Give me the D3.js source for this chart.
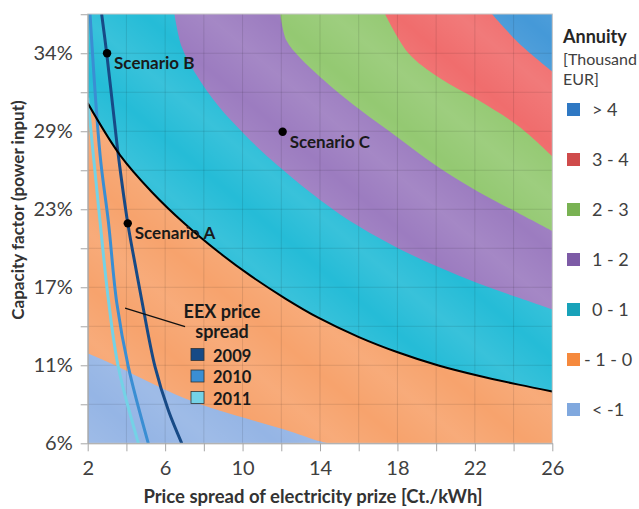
<!DOCTYPE html>
<html>
<head>
<meta charset="utf-8">
<script src="https://cdn.jsdelivr.net/npm/d3@7/dist/d3.min.js"></script>
<style>
  body { margin: 0; background: #fff; }
  svg { display: block; }
</style>
</head>
<body>
<div id="chart-container"></div>
<script>
// Values. x = price spread [Ct./kWh], y = capacity factor [%]
const xTickLabels = [2, 6, 10, 14, 18, 22, 26];
const yTicks = [5.708, 11.416, 17.123, 22.831, 28.539, 34.247]; // 500 ... 3000 h / 8760 h
const yTickLabels = ["6%", "11%", "17%", "23%", "29%", "34%"];

// Annuity classes [Thousand EUR], top to bottom in the legend
const classLabels = ["> 4", "3 - 4", "2 - 3", "1 - 2", "0 - 1", "- 1 - 0", "< -1"];

// Lower boundary of each class (contour lines), [x, y]
const contourM1 = [[2, 12.3], [3.6, 11.3], [5.3, 10.1], [7, 9.0], [8.8, 8.1], [10.5, 7.4], [12.2, 6.7], [14, 5.85], [14.45, 5.708], [26, 5.708]];
const contour0 = [[2, 30.6], [3.67, 26.8], [5.31, 24.1], [7.03, 21.75], [8.76, 19.7], [10.48, 17.9], [12.21, 16.3], [13.91, 14.9], [15.98, 13.5], [18.05, 12.35], [20.12, 11.4], [22.19, 10.65], [24.26, 10.0], [26, 9.5]];
const contour1 = [[6.48, 37.12], [6.86, 34.7], [7.55, 32.8], [8.74, 30.4], [10.14, 28.25], [11.52, 26.4], [14.02, 23.5], [15.98, 21.6], [18.05, 19.97], [20.12, 18.6], [22.19, 17.4], [24.26, 16.35], [26, 15.5]];
const contour2 = [[11.95, 37.12], [12.26, 35.2], [12.98, 33.9], [14.02, 32.5], [15.98, 30.2], [18.05, 28.05], [20.12, 25.9], [22.19, 24.1], [24.26, 22.55], [26, 21.25]];
const contour3 = [[17.36, 37.12], [18.57, 34.25], [20.12, 32.5], [22.19, 30.8], [24.26, 28.9], [26, 26.7]];
const contour4 = [[22.88, 37.12], [24.26, 35.0], [26, 32.9]];

// EEX price spread curves
const eexYears = ["2009", "2010", "2011"];
const eex2009 = [[2.72, 37.12], [2.98, 34.25], [3.41, 28.9], [3.58, 26.8], [4.07, 21.8], [4.45, 18.8], [4.79, 16.2], [5.48, 11.3], [6.17, 8.1], [6.86, 5.708]];
const eex2010 = [[2.12, 37.12], [2.64, 26.8], [3.07, 21.9], [3.5, 16.0], [4.1, 11.3], [5.13, 5.708]];
const eex2011 = [[2.0, 31.0], [2.29, 26.8], [2.64, 21.9], [3.07, 16.2], [3.58, 11.3], [4.62, 5.708]];

// Scenarios
const scenarioNames = ["Scenario A", "Scenario B", "Scenario C"];
const scenarioX = [4.07, 3.0, 12.07];
const scenarioY = [21.8, 34.25, 28.5];

// Farben
const fillColors = ["#4599d8", "#f06d6d", "#94c972", "#9c7cc0", "#25bcd7", "#f7a36d", "#95b5e5"];
const legendColors = ["#2f78c3", "#cf4b4b", "#79b253", "#7d5ba6", "#18a2b9", "#f5893d", "#80a8de"];
const eexColors = ["#174a86", "#3a8ed3", "#74d2e6"];

const width = 639;
const height = 509;
const plot = { left: 87.7, right: 552.3, top: 14, bottom: 443.3 };
const fontFamily = "Lato, 'Open Sans', sans-serif";

const svg = d3.select("#chart-container")
    .append("svg")
    .attr("width", width)
    .attr("height", height)
    .style("font-family", fontFamily);

const x = d3.scaleLinear().domain([2, 26]).range([plot.left, plot.right]);
const y = d3.scaleLinear().domain([5.708, 37.12]).range([plot.bottom, plot.top]);

const defs = svg.append("defs");
defs.append("clipPath").attr("id", "plot-clip")
    .append("rect")
    .attr("x", plot.left).attr("y", plot.top)
    .attr("width", plot.right - plot.left)
    .attr("height", plot.bottom - plot.top);

// diagonal shading like the original
const grad = defs.append("linearGradient")
    .attr("id", "shade")
    .attr("gradientUnits", "userSpaceOnUse")
    .attr("spreadMethod", "reflect")
    .attr("x1", 0).attr("y1", 0)
    .attr("x2", 26).attr("y2", -31);
grad.append("stop").attr("offset", "0").attr("stop-color", "#fff").attr("stop-opacity", 0.0);
grad.append("stop").attr("offset", "1").attr("stop-color", "#fff").attr("stop-opacity", 0.09);

const g = svg.append("g").attr("clip-path", "url(#plot-clip)");

// background class (< -1)
g.append("rect")
    .attr("x", plot.left).attr("y", plot.top)
    .attr("width", plot.right - plot.left)
    .attr("height", plot.bottom - plot.top)
    .attr("fill", fillColors[6]);

// each class = area above its lower contour
const area = d3.area()
    .x(d => x(d[0]))
    .y0(y(37.12) - 2)
    .y1(d => y(d[1]))
    .curve(d3.curveCatmullRom);

const layers = [contourM1, contour0, contour1, contour2, contour3, contour4];
layers.forEach((c, i) => {
    g.append("path")
        .datum(c)
        .attr("d", area)
        .attr("fill", fillColors[5 - i]);
});

g.append("rect")
    .attr("x", plot.left).attr("y", plot.top)
    .attr("width", plot.right - plot.left)
    .attr("height", plot.bottom - plot.top)
    .attr("fill", "url(#shade)");

// Gitternetz
const gridX = d3.range(4, 26, 2);
const gridY = d3.range(1, 11).map(i => 5.708 + i * 2.854);
g.selectAll(".gx").data(gridX).enter().append("line")
    .attr("x1", d => x(d)).attr("x2", d => x(d))
    .attr("y1", plot.top).attr("y2", plot.bottom)
    .attr("stroke", "#000").attr("stroke-opacity", 0.1);
g.selectAll(".gy").data(gridY).enter().append("line")
    .attr("y1", d => y(d)).attr("y2", d => y(d))
    .attr("x1", plot.left).attr("x2", plot.right)
    .attr("stroke", "#000").attr("stroke-opacity", 0.1);

// EEX curves
const line = d3.line().x(d => x(d[0])).y(d => y(d[1])).curve(d3.curveCatmullRom);
[eex2011, eex2010, eex2009].forEach((c, i) => {
    g.append("path")
        .datum(c)
        .attr("d", line)
        .attr("fill", "none")
        .attr("stroke", eexColors[2 - i])
        .attr("stroke-width", 3);
});

// zero contour
g.append("path")
    .datum(contour0)
    .attr("d", line)
    .attr("fill", "none")
    .attr("stroke", "#000")
    .attr("stroke-width", 2);

// frame
svg.append("rect")
    .attr("x", plot.left).attr("y", plot.top)
    .attr("width", plot.right - plot.left)
    .attr("height", plot.bottom - plot.top)
    .attr("fill", "none")
    .attr("stroke", "#c8c8c8");

// Achsen
const xAxis = svg.append("g")
    .attr("transform", `translate(0, ${plot.bottom})`)
    .call(d3.axisBottom(x)
        .tickValues(d3.range(2, 27, 2))
        .tickFormat(d => xTickLabels.includes(d) ? d : "")
        .tickSize(8)
        .tickPadding(10)
        .tickSizeOuter(0));
xAxis.select(".domain").attr("stroke", "#a6a6a6");
xAxis.selectAll(".tick line").attr("stroke", "#a6a6a6");
xAxis.selectAll("text")
    .style("font-size", "20px")
    .style("font-family", fontFamily)
    .attr("fill", "#404040");

const yAxis = svg.append("g")
    .attr("transform", `translate(${plot.left}, 0)`)
    .call(d3.axisLeft(y)
        .tickValues(d3.range(0, 12).map(i => 5.708 + i * 2.854))
        .tickFormat((d, i) => i % 2 === 0 ? yTickLabels[i / 2] : "")
        .tickSize(7)
        .tickPadding(8)
        .tickSizeOuter(0));
yAxis.select(".domain").attr("stroke", "#a6a6a6");
yAxis.selectAll(".tick line").attr("stroke", "#a6a6a6");
yAxis.selectAll("text")
    .style("font-size", "20px")
    .style("font-family", fontFamily)
    .attr("fill", "#404040");

// Achsentitel
svg.append("text")
    .attr("x", 313)
    .attr("y", 503)
    .attr("text-anchor", "middle")
    .style("font-size", "18.5px")
    .style("font-weight", "bold")
    .attr("fill", "#333")
    .text("Price spread of electricity prize [Ct./kWh]");

svg.append("text")
    .attr("transform", "translate(24, 210) rotate(-90)")
    .attr("text-anchor", "middle")
    .style("font-size", "17px")
    .style("font-weight", "bold")
    .attr("fill", "#333")
    .text("Capacity factor (power input)");

// Szenarien
scenarioNames.forEach((name, i) => {
    svg.append("circle")
        .attr("cx", x(scenarioX[i]))
        .attr("cy", y(scenarioY[i]))
        .attr("r", 4.2)
        .attr("fill", "#000");
    svg.append("text")
        .attr("x", x(scenarioX[i]) + 7)
        .attr("y", y(scenarioY[i]) + 16)
        .style("font-size", "17px")
        .style("font-weight", "bold")
        .attr("fill", "#1a1a1a")
        .text(name);
});

// EEX legend inside the plot
svg.append("line")
    .attr("x1", x(3.93)).attr("y1", y(15.59))
    .attr("x2", x(7.03)).attr("y2", y(14.24))
    .attr("stroke", "#111")
    .attr("stroke-width", 1.3);
svg.append("text")
    .attr("x", 222).attr("y", 318)
    .attr("text-anchor", "middle")
    .style("font-size", "18px").style("font-weight", "bold")
    .attr("fill", "#1a1a1a")
    .text("EEX price");
svg.append("text")
    .attr("x", 222).attr("y", 338)
    .attr("text-anchor", "middle")
    .style("font-size", "18px").style("font-weight", "bold")
    .attr("fill", "#1a1a1a")
    .text("spread");
eexYears.forEach((yr, i) => {
    svg.append("rect")
        .attr("x", 191).attr("y", 348.5 + i * 21.5)
        .attr("width", 13).attr("height", 12)
        .attr("fill", eexColors[i])
        .attr("stroke", "#333").attr("stroke-width", 0.8);
    svg.append("text")
        .attr("x", 213).attr("y", 361.5 + i * 21.5)
        .style("font-size", "16.5px").style("font-weight", "bold")
        .attr("fill", "#1a1a1a")
        .text(yr);
});

// Legende rechts
svg.append("text")
    .attr("x", 563).attr("y", 43)
    .style("font-size", "18px").style("font-weight", "bold")
    .attr("fill", "#262626")
    .text("Annuity");
svg.append("text")
    .attr("x", 563).attr("y", 65)
    .style("font-size", "16px")
    .attr("fill", "#404040")
    .text("[Thousand");
svg.append("text")
    .attr("x", 563).attr("y", 85)
    .style("font-size", "16px")
    .attr("fill", "#404040")
    .text("EUR]");

classLabels.forEach((lab, i) => {
    svg.append("rect")
        .attr("x", 567).attr("y", 103 + i * 50)
        .attr("width", 13).attr("height", 13)
        .attr("fill", legendColors[i]);
    svg.append("text")
        .attr("x", lab.startsWith("- ") ? 584 : 592)
        .attr("y", 116 + i * 50)
        .style("font-size", "18px")
        .attr("fill", "#404040")
        .text(lab);
});
</script>
</body>
</html>
